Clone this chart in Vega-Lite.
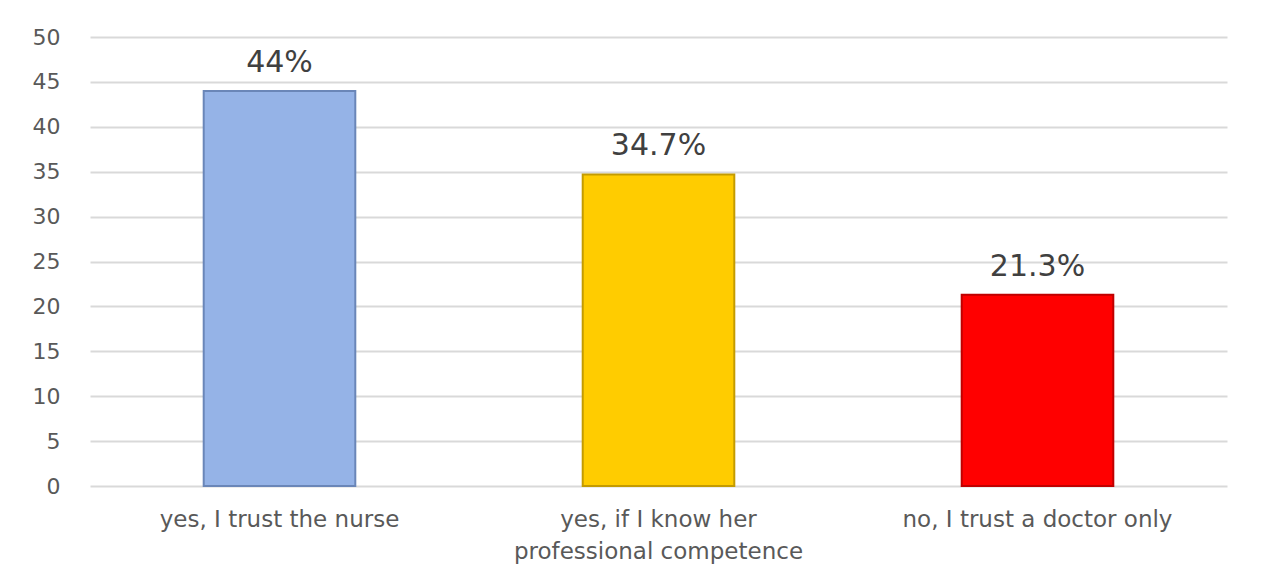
{
  "$schema": "https://vega.github.io/schema/vega-lite/v6.json",
  "width": 1137,
  "height": 449,
  "autosize": "none",
  "padding": {"left": 90, "top": 37, "right": 37, "bottom": 93},
  "background": "white",
  "config": {
    "view": {"stroke": null},
    "font": "DejaVu Sans"
  },
  "data": {
    "values": [
      {"answer": "yes, I trust the nurse", "pct": 44, "label": "44%"},
      {"answer": "yes, if I know her professional competence", "pct": 34.7, "label": "34.7%"},
      {"answer": "no, I  trust a doctor only", "pct": 21.3, "label": "21.3%"}
    ]
  },
  "encoding": {
    "x": {
      "field": "answer",
      "type": "nominal",
      "sort": null,
      "scale": {"paddingInner": 0.6, "paddingOuter": 0.3},
      "axis": {
        "title": null,
        "domain": false,
        "ticks": false,
        "labelAngle": 0,
        "labelFontSize": 23,
        "labelColor": "#595959",
        "labelPadding": 22,
        "labelLimit": 0,
        "labelLineHeight": 32,
        "labelExpr": "datum.value == 'yes, if I know her professional competence' ? ['yes, if I know her', 'professional competence'] : datum.value"
      }
    },
    "y": {
      "field": "pct",
      "type": "quantitative",
      "scale": {"domain": [0, 50]},
      "axis": {
        "title": null,
        "domain": false,
        "ticks": false,
        "values": [0, 5, 10, 15, 20, 25, 30, 35, 40, 45, 50],
        "labelFontSize": 22,
        "labelColor": "#595959",
        "labelPadding": 30,
        "gridColor": "#d9d9d9",
        "gridWidth": 2
      }
    }
  },
  "layer": [
    {
      "mark": {"type": "bar", "strokeWidth": 2},
      "encoding": {
        "color": {
          "field": "answer",
          "type": "nominal",
          "sort": null,
          "scale": {"range": ["#95b3e7", "#ffcc00", "#ff0000"]},
          "legend": null
        },
        "stroke": {
          "field": "answer",
          "type": "nominal",
          "sort": null,
          "scale": {"range": ["#6a86b8", "#c49b00", "#c00000"]},
          "legend": null
        }
      }
    },
    {
      "mark": {"type": "text", "baseline": "alphabetic", "dy": -19, "fontSize": 30, "color": "#404040"},
      "encoding": {
        "text": {"field": "label"}
      }
    }
  ]
}
